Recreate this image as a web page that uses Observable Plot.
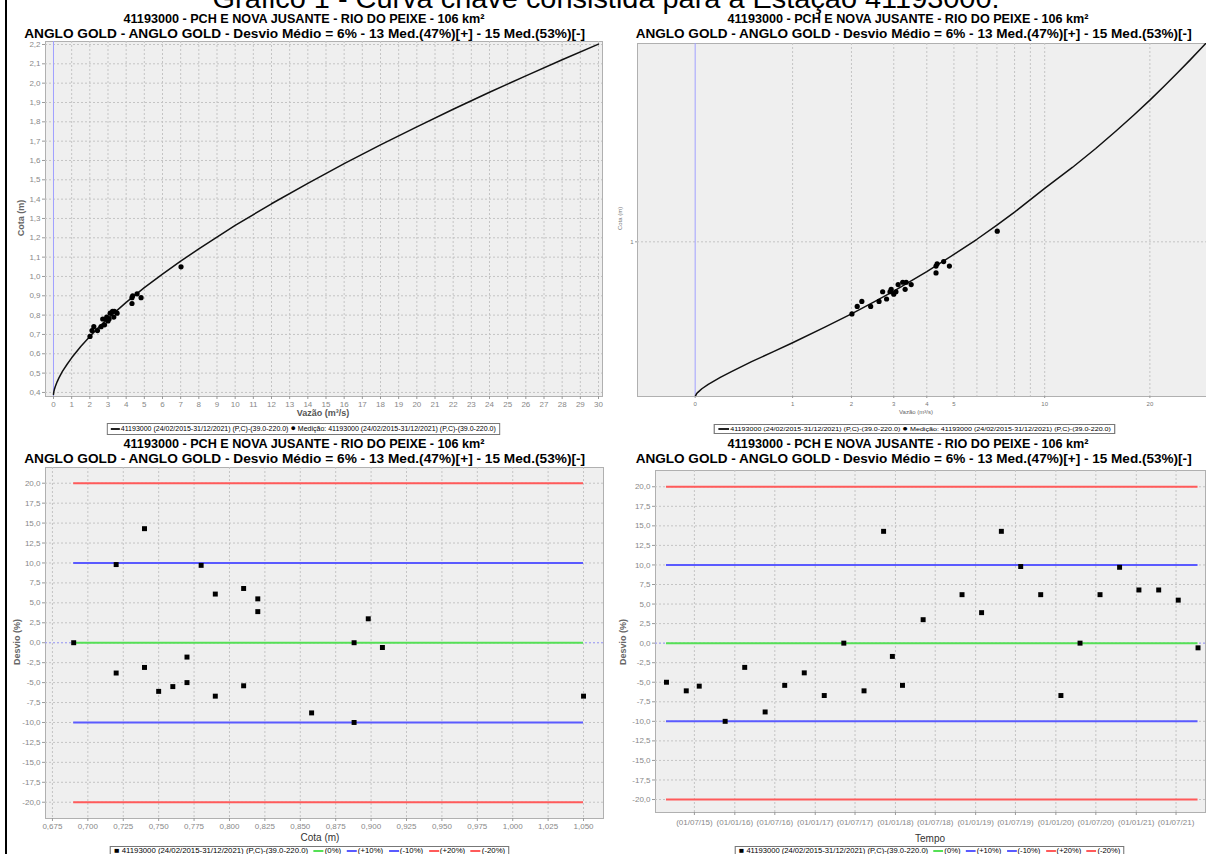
<!DOCTYPE html>
<html><head><meta charset="utf-8">
<script src="https://cdn.jsdelivr.net/npm/d3@7"></script>
<script src="https://cdn.jsdelivr.net/npm/@observablehq/plot@0.6"></script>
<style>
html,body{margin:0;padding:0;background:#fff;}
body{width:1206px;height:854px;overflow:hidden;position:relative;font-family:"Liberation Sans",Arial,sans-serif;}
.panel{position:absolute;}
.panel svg{overflow:visible;}
.lg{border:1px solid #777;padding:0 3px;color:#444;background:#fff;}
.sw{display:inline-block;width:9px;height:2px;vertical-align:middle;margin:0 1px 0 3px;}
</style></head>
<body>
<div id="border" style="position:absolute;left:5px;top:0;width:2px;height:854px;background:#000"></div>
<script>
// ---------------- DATA ----------------
const mainTitle = "Gráfico 1 - Curva chave consistida para a Estação 41193000.";
const titleLine1 = "41193000 - PCH E NOVA JUSANTE - RIO DO PEIXE - 106 km²";
const titleLine2 = "ANGLO GOLD - ANGLO GOLD - Desvio Médio = 6% - 13 Med.(47%)[+] - 15 Med.(53%)[-]";
const seriesName = "41193000 (24/02/2015-31/12/2021) (P,C)-(39.0-220.0)";
const medName = "Medição: 41193000 (24/02/2015-31/12/2021) (P,C)-(39.0-220.0)";

// rating curve (vazão m³/s, cota m)
const curveQ = [0, 0.01, 0.02, 0.05, 0.1, 0.2, 0.3, 0.5, 0.75, 1, 1.5, 2, 2.5, 3, 4, 5, 6, 7, 8, 10, 12, 14, 16, 18, 20, 22, 24, 26, 28, 30];
const curveH = [0.39, 0.399, 0.404, 0.416, 0.431, 0.455, 0.475, 0.510, 0.546, 0.579, 0.638, 0.690, 0.738, 0.783, 0.866, 0.942, 1.012, 1.079, 1.143, 1.264, 1.376, 1.482, 1.584, 1.681, 1.774, 1.865, 1.953, 2.038, 2.121, 2.202];

// measurements (vazão, cota)
const medQ = [2.01, 2.12, 2.22, 2.42, 2.62, 2.71, 2.81, 2.90, 2.93, 3.00, 3.06, 3.12, 3.25, 3.32, 3.35, 3.50, 4.32, 4.32, 4.36, 4.60, 4.82, 7.02];
const medH = [0.69, 0.72, 0.74, 0.72, 0.74, 0.78, 0.75, 0.78, 0.79, 0.77, 0.78, 0.81, 0.82, 0.79, 0.82, 0.81, 0.86, 0.89, 0.90, 0.91, 0.89, 1.05];

// deviation (%) vs cota (m)
const devCota = [0.69, 0.72, 0.72, 0.74, 0.74, 0.75, 0.76, 0.77, 0.77, 0.78, 0.79, 0.79, 0.81, 0.81, 0.82, 0.82, 0.858, 0.888, 0.888, 0.898, 0.908, 1.05];
const devCotaPct = [0.0, 9.8, -3.8, 14.3, -3.1, -6.1, -5.5, -1.8, -5.0, 9.7, 6.1, -6.7, 6.8, -5.4, 5.5, 3.9, -8.8, 0.0, -10.0, 3.0, -0.6, -6.7];

// deviation (%) vs time
const devDates = ["2015-02-24","2015-05-25","2015-07-23","2015-11-18","2016-02-15","2016-05-18","2016-08-15","2016-11-12","2017-02-11","2017-05-11","2017-08-11","2017-11-08","2017-12-18","2018-02-02","2018-05-07","2018-10-31","2019-01-28","2019-04-28","2019-07-25","2019-10-24","2020-01-24","2020-04-20","2020-07-20","2020-10-17","2021-01-13","2021-04-13","2021-07-11","2021-10-09"];
const devTimePct = [-5.0, -6.1, -5.5, -10.0, -3.1, -8.8, -5.4, -3.8, -6.7, 0.0, -6.1, 14.3, -1.7, -5.4, 3.0, 6.2, 3.9, 14.3, 9.8, 6.2, -6.7, 0.0, 6.2, 9.7, 6.8, 6.8, 5.5, -0.6];

// reference bands
const bandLevels = [0, 10, -10, 20, -20];
const bandNames = ["(0%)", "(+10%)", "(-10%)", "(+20%)", "(-20%)"];
const bandColors = ["#55e055", "#5a5aff", "#5a5aff", "#ff5a5a", "#ff5a5a"];

// ticks
const ticksQ = d3.range(0, 31);
const ticksH = d3.range(4, 23).map(v => v / 10);
const ticksLogQ = [0, 1, 2, 3, 4, 5, 10, 20];
const gridLogQ = [1, 2, 3, 4, 5, 6, 7, 8, 9, 10, 20];
const ticksLogH = [1];
const ticksDev = d3.range(-8, 9).map(v => v * 2.5);
const ticksCota = d3.range(0, 16).map(v => 0.675 + v * 0.025);
const ticksDate = ["2015-07-01","2016-01-01","2016-07-01","2017-01-01","2017-07-01","2018-01-01","2018-07-01","2019-01-01","2019-07-01","2020-01-01","2020-07-01","2021-01-01","2021-07-01"];

// ---------------- HELPERS ----------------
const FONT = "'Liberation Sans', Arial, sans-serif";
const comma = (v, n) => v.toFixed(n).replace(".", ",");
function place(html, {cx, cy, w = null, size = 12, weight = "normal", color = "#000", rotate = 0, cls = ""}) {
  const el = document.createElement("div");
  el.className = cls;
  el.style.cssText += `position:absolute;left:0;top:0;white-space:nowrap;font-size:${size}px;font-weight:${weight};color:${color};line-height:1.1;font-family:${FONT};`;
  el.innerHTML = html;
  document.body.appendChild(el);
  const r = el.getBoundingClientRect();
  const sx = w ? w / r.width : 1;
  el.style.left = (cx - r.width / 2) + "px";
  el.style.top = (cy - r.height / 2) + "px";
  el.style.transformOrigin = "center center";
  el.style.transform = `${rotate ? `rotate(${rotate}deg) ` : ""}scaleX(${sx})`;
  return el;
}
function mount(svg, left, top) {
  const d = document.createElement("div");
  d.className = "panel";
  d.style.left = left + "px"; d.style.top = top + "px";
  d.appendChild(svg);
  document.body.appendChild(d);
}
// JFreeChart style adjusted log10
const alog = v => { const neg = v < 0; let a = Math.abs(v); if (a < 10) a += (10 - a) / 10; const r = Math.log10(a); return neg ? -r : r; };
const gridStyle = {stroke: "#c4c4c4", strokeOpacity: 1, strokeDasharray: "2,2", strokeWidth: 1};

const curve = curveQ.map((q, i) => ({q, h: curveH[i]}));
const med = medQ.map((q, i) => ({q, h: medH[i]}));
const devC = devCota.map((c, i) => ({c, p: devCotaPct[i]}));
const devT = devDates.map((d, i) => ({t: new Date(d + "T00:00:00Z"), p: devTimePct[i]}));
const bands = bandLevels.map((v, i) => ({v, color: bandColors[i]}));
const dateTicks = ticksDate.map(d => new Date(d + "T00:00:00Z"));

// ---------------- TITLES ----------------
place(mainTitle, {cx: 606, cy: -1, w: 787, size: 28});
for (const [cx, y0] of [[304, 19], [908, 19], [304, 444], [908, 444]]) {
  place(titleLine1, {cx, cy: y0, w: 361, size: 13, weight: "bold"});
  place(titleLine2, {cx: cx + (cx > 600 ? 6 : 1), cy: y0 + 15, w: cx > 600 ? 556 : 561, size: 13, weight: "bold"});
}

// ---------------- TOP-LEFT ----------------
mount(Plot.plot({
  width: 606, height: 384, marginLeft: 45, marginRight: 4, marginTop: 5, marginBottom: 24,
  style: {fontFamily: FONT, fontSize: "8px", background: "transparent", color: "#888"},
  x: {domain: [-0.44, 30.22]},
  y: {domain: [0.379, 2.2155]},
  marks: [
    Plot.frame({fill: "#efefef", stroke: "#b0b0b0"}),
    Plot.gridX(ticksQ, gridStyle),
    Plot.gridY(ticksH, gridStyle),
    Plot.ruleX([0], {stroke: "#a0a0ff", strokeWidth: 1}),
    Plot.axisX(ticksQ, {tickSize: 3, tickPadding: 2, stroke: "#999", fill: "#888", label: null, tickFormat: d => String(d)}),
    Plot.axisY(ticksH, {tickSize: 3, tickPadding: 2, stroke: "#999", fill: "#888", label: null, tickFormat: d => comma(d, 1)}),
    Plot.line(curve, {x: "q", y: "h", stroke: "#111", strokeWidth: 1.5, clip: true}),
    Plot.dot(med, {x: "q", y: "h", r: 2.6, fill: "#000", stroke: "none"})
  ]
}), 0, 36);
place("Cota (m)", {cx: 22, cy: 218, size: 9, weight: "bold", color: "#666", rotate: -90});
place("Vazão (m³/s)", {cx: 323, cy: 414, size: 9, weight: "bold", color: "#555"});
place(`<span class="sw" style="background:#222;margin-left:0"></span>${seriesName} <span style="font-size:9px;color:#000">●</span> ${medName}`,
  {cx: 303, cy: 429, w: 393, size: 7, cls: "lg"});

// ---------------- TOP-RIGHT ----------------
mount(Plot.plot({
  width: 600, height: 384, marginLeft: 31, marginRight: 0, marginTop: 7, marginBottom: 24,
  style: {fontFamily: FONT, fontSize: "6px", background: "transparent", color: "#888"},
  x: {domain: [-0.165, 1.463]},
  y: {domain: [0.1307, 0.4686]},
  marks: [
    Plot.frame({fill: "#efefef", stroke: "#b0b0b0"}),
    Plot.gridX(gridLogQ.map(alog), gridStyle),
    Plot.gridY(ticksLogH.map(alog), gridStyle),
    Plot.ruleX([alog(0)], {stroke: "#a0a0ff", strokeWidth: 1}),
    Plot.axisX(ticksLogQ.map(alog), {tickSize: 2, tickPadding: 3, stroke: "#999", fill: "#777", label: null,
      tickFormat: v => String(ticksLogQ[ticksLogQ.map(alog).findIndex(t => Math.abs(t - v) < 1e-9)])}),
    Plot.axisY(ticksLogH.map(alog), {tickSize: 2, tickPadding: 2, stroke: "#999", fill: "#777", label: null,
      tickFormat: v => String(ticksLogH[0])}),
    Plot.line(curve, {x: d => alog(d.q), y: d => alog(d.h), stroke: "#111", strokeWidth: 1.5, clip: true}),
    Plot.dot(med, {x: d => alog(d.q), y: d => alog(d.h), r: 2.6, fill: "#000", stroke: "none"})
  ]
}), 606, 36);
place("Cota (m)", {cx: 621, cy: 218, size: 6, color: "#777", rotate: -90});
place("Vazão (m³/s)", {cx: 916, cy: 412, size: 6, color: "#666"});
place(`<span class="sw" style="background:#222;margin-left:0"></span>${seriesName} <span style="font-size:8px;color:#000">●</span> ${medName}`,
  {cx: 915, cy: 429, w: 402, size: 6, cls: "lg"});

// ---------------- BOTTOM-LEFT ----------------
const cMin = d3.min(devCota), cMax = d3.max(devCota);
mount(Plot.plot({
  width: 606, height: 380, marginLeft: 45, marginRight: 3, marginTop: 7, marginBottom: 22,
  style: {fontFamily: FONT, fontSize: "8px", background: "transparent", color: "#888"},
  x: {domain: [0.6701, 1.0641]},
  y: {domain: [-22.04, 21.97]},
  marks: [
    Plot.frame({fill: "#efefef", stroke: "#b0b0b0"}),
    Plot.gridX(ticksCota, gridStyle),
    Plot.gridY(ticksDev, gridStyle),
    Plot.ruleY([0], {stroke: "#a0a0ff", strokeDasharray: "2,2"}),
    Plot.ruleY(bands, {y: "v", x1: cMin, x2: cMax, stroke: "color", strokeWidth: 2}),
    Plot.axisX(ticksCota, {tickSize: 3, tickPadding: 2, stroke: "#999", fill: "#888", label: null, tickFormat: d => comma(d, 3)}),
    Plot.axisY(ticksDev, {tickSize: 3, tickPadding: 2, stroke: "#999", fill: "#888", label: null, tickFormat: d => comma(d, 1)}),
    Plot.dot(devC, {x: "c", y: "p", symbol: "square", r: 2.8, fill: "#000", stroke: "none"})
  ]
}), 0, 460);
place("Desvio (%)", {cx: 18, cy: 642, size: 9, weight: "bold", color: "#666", rotate: -90});
place("Cota (m)", {cx: 320, cy: 837, size: 10, color: "#333"});
const bandLegend = bandNames.map((n, i) => `<span class="sw" style="background:${bandColors[i]}"></span>${n}`).join(" ");
place(`<span style="font-size:8px;color:#000">■</span> ${seriesName} ${bandLegend}`, {cx: 310, cy: 851, w: 400, size: 7, cls: "lg"});

// ---------------- BOTTOM-RIGHT ----------------
const tMin = d3.min(devT, d => d.t), tMax = d3.max(devT, d => d.t);
mount(Plot.plot({
  width: 600, height: 380, marginLeft: 49, marginRight: 1, marginTop: 10, marginBottom: 28,
  style: {fontFamily: FONT, fontSize: "8px", background: "transparent", color: "#888"},
  x: {type: "utc", domain: [new Date("2015-01-05T00:00:00Z"), new Date("2021-11-12T00:00:00Z")]},
  y: {domain: [-21.66, 22.08]},
  marks: [
    Plot.frame({fill: "#efefef", stroke: "#b0b0b0"}),
    Plot.gridX(dateTicks, gridStyle),
    Plot.gridY(ticksDev, gridStyle),
    Plot.ruleY([0], {stroke: "#a0a0ff", strokeDasharray: "2,2"}),
    Plot.ruleY(bands, {y: "v", x1: tMin, x2: tMax, stroke: "color", strokeWidth: 2}),
    Plot.axisX(dateTicks, {tickSize: 3, tickPadding: 4, stroke: "#999", fill: "#888", label: null, tickFormat: d3.utcFormat("(%d/%m/%y)")}),
    Plot.axisY(ticksDev, {tickSize: 3, tickPadding: 2, stroke: "#999", fill: "#888", label: null, tickFormat: d => comma(d, 1)}),
    Plot.dot(devT, {x: "t", y: "p", symbol: "square", r: 2.8, fill: "#000", stroke: "none"})
  ]
}), 606, 460);
place("Desvio (%)", {cx: 624, cy: 642, size: 9, weight: "bold", color: "#666", rotate: -90});
place("Tempo", {cx: 930, cy: 838, size: 10, color: "#333"});
place(`<span style="font-size:8px;color:#000">■</span> ${seriesName} ${bandLegend}`, {cx: 930, cy: 851, w: 390, size: 7, cls: "lg"});
</script>
</body></html>
